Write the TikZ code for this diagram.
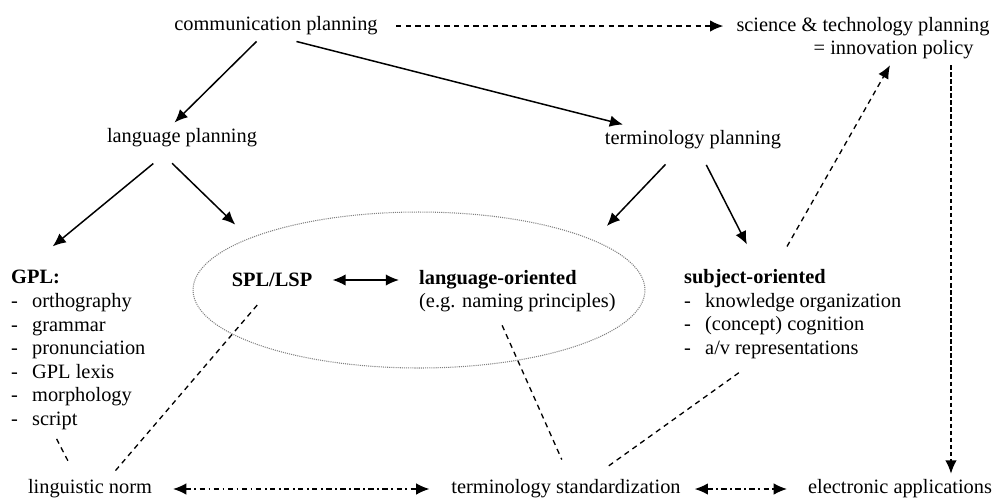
\documentclass[tikz,border=0pt]{standalone}
\usepackage{fontspec}
\setmainfont{Liberation Serif}
\usetikzlibrary{arrows.meta,shapes.geometric}

\newcommand{\itm}[1]{\makebox[0.42cm][l]{-}#1}

\begin{document}
\begin{tikzpicture}[x=0.02cm,y=-0.02cm,font=\fontsize{11.6pt}{13.4pt}\selectfont,
		arr/.style={-{Latex[length=7.5pt,width=6.5pt]},line width=0.85pt},
		darr/.style={-{Latex[length=7.5pt,width=6.5pt]},dash pattern=on 3pt off 2.5pt,line width=0.75pt},
		ddarr/.style={{Latex[length=7.5pt,width=6.5pt]}-{Latex[length=7.5pt,width=6.5pt]},dash pattern=on 3pt off 2pt on 1pt off 2pt,line width=0.7pt},
		dline/.style={dash pattern=on 3pt off 2.5pt,line width=0.75pt}]
	\useasboundingbox (0,0) rectangle (994,498);

	\node at (276,26)  (comm) {communication planning};
	\node at (863,38)  [align=right] (sci) {science \& technology planning\\= innovation policy\hspace*{0.32cm}};
	\node at (182,138) (lang) {language planning};
	\node at (693,140) (term) {terminology planning};

	\node at (419,290) [ellipse,draw=gray,dash pattern=on 0.6pt off 0.6pt,line width=0.6pt,minimum width=9.04cm,minimum height=3.12cm] (group) {};
	\node at (272,280) (spl) {\textbf{SPL/LSP}};
	\node at (413,291) [anchor=west,align=left] (langor) {\textbf{language-oriented}\\(e.g. naming principles)};

	\node at (5,350)   [anchor=west,align=left] (gpl) {\textbf{GPL:}\\\itm{orthography}\\\itm{grammar}\\\itm{pronunciation}\\\itm{GPL lexis}\\\itm{morphology}\\\itm{script}};
	\node at (678,314) [anchor=west,align=left] (subj) {\textbf{subject-oriented}\\\itm{knowledge organization}\\\itm{(concept) cognition}\\\itm{a/v representations}};

	\node at (90,489)  (norm) {linguistic norm};
	\node at (566,489) (std)  {terminology standardization};
	\node at (900,489) (elec) {electronic applications};

	\draw[arr] ([xshift=-0.39cm]comm.south) -- ([xshift=-0.15cm]lang.north);
	\draw[arr] ([xshift=0.41cm]comm.south)  -- ([xshift=-1.4cm]term.north);
	\draw[darr,shorten <=7pt,shorten >=4pt] (comm.east) -- (comm.east -| sci.west);

	\draw[arr,shorten <=9pt,shorten >=16pt]  ([xshift=-0.33cm]lang.south) -- ([xshift=0.52cm]gpl.north west);
	\draw[arr,shorten <=8pt,shorten >=11pt]  ([xshift=-0.4cm]lang.south)  -- (group.163);
	\draw[arr,shorten <=7pt,shorten >=11pt]  ([xshift=-0.38cm]term.south) -- (group.16.6);
	\draw[arr,shorten <=6pt,shorten >=12pt]  ([xshift=0.17cm]term.south)  -- ([xshift=1.57cm]subj.north west);
	\draw[arr,{Latex[length=7.5pt,width=6.5pt]}-{Latex[length=7.5pt,width=6.5pt]},shorten <=8pt,shorten >=8pt] (spl.east) -- (spl.east -| langor.west);

	\draw[darr,shorten <=11pt] ([xshift=1.99cm]subj.north west) -- ([xshift=0.54cm]sci.south);
	\draw[darr,dash pattern=on 2.5pt off 1.5pt] ([xshift=1.76cm]sci.south) -- ([xshift=1.76cm]sci.south |- elec.north);

	\draw[dline,shorten <=9pt,shorten >=1.5pt] ([xshift=-0.09cm]spl.south) -- ([xshift=0.46cm]norm.north);
	\draw[dline,shorten <=2pt,shorten >=6pt]   ([xshift=1.0cm]gpl.south west) -- ([xshift=-0.31cm]norm.north);
	\draw[dline,shorten <=4.4pt,shorten >=8.7pt] ([xshift=1.72cm]langor.south west) -- ([xshift=0.04cm]std.north);
	\draw[dline,shorten <=7.8pt,shorten >=6.8pt] ([xshift=1.44cm]subj.south west) -- ([xshift=0.64cm]std.north);

	\draw[ddarr,shorten <=8.5pt,shorten >=9pt] (norm.east) -- (std.west);
	\draw[ddarr,shorten <=4.5pt,shorten >=8.5pt] (std.east) -- (elec.west);
\end{tikzpicture}
\end{document}
